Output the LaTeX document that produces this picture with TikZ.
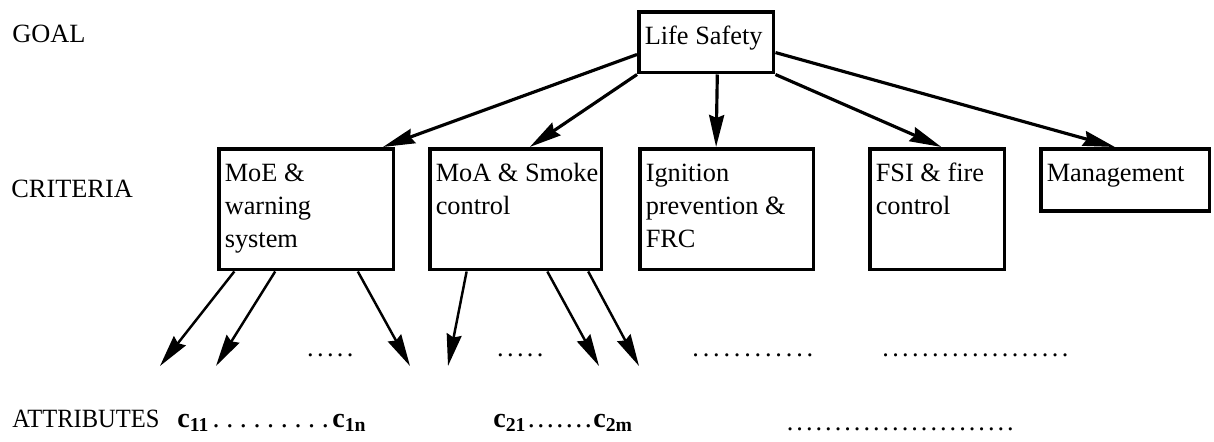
\documentclass[tikz,border=0pt]{standalone}
\usepackage{fontspec}
\setmainfont{Liberation Serif}
\usetikzlibrary{arrows.meta, calc}

\newcommand{\btxt}[3]{\parbox[t][#2][t]{#1}{\raggedright\leftskip=0.12cm\rule{0pt}{0.66cm}#3}}
\newcommand{\dts}[2]{\hbox to #1{\mdseries\xleaders\hbox to #2{\hss.\hss}\hfill}}

\begin{document}
\begin{tikzpicture}[x=0.02cm, y=-0.02cm,
    font=\fontsize{15}{18.8}\selectfont,
    box/.style={draw, line width=2pt, anchor=north west, inner sep=0pt},
    lbl/.style={anchor=base west, inner sep=0pt},
    cvar/.style={lbl, font=\fontsize{16}{18}\selectfont\bfseries},
    arr/.style={-{Stealth[length=0.64cm, width=0.3cm, inset=0.06cm]}, line width=1.8pt},
    sub/.style={-{Stealth[length=0.64cm, width=0.3cm, inset=0.06cm]}, line width=1.4pt}]
      \useasboundingbox (0,0) rectangle (1214,442);
      \node[lbl] (goal) at (12,43) {GOAL};
      \node[lbl] (crit) at (11,198) {CRITERIA};
      \node[lbl, xscale=.93] (attr) at (12,427) {ATTRIBUTES};
      \node[box] (ls) at (637,10) {\btxt{2.7cm}{1.22cm}{Life Safety}};
      \node[box] (moe) at (217,147) {\btxt{3.5cm}{2.42cm}{MoE \&\\warning\\system}};
      \node[box] (moa) at (428,147) {\btxt{3.44cm}{2.42cm}{MoA \&~Smoke\\control}};
      \node[box] (ign) at (638,147) {\btxt{3.48cm}{2.42cm}{Ignition\\prevention \&\\FRC}};
      \node[box] (fsi) at (868,147) {\btxt{2.7cm}{2.42cm}{FSI \& fire\\control}};
      \node[box] (mgt) at (1039,147) {\btxt{3.38cm}{1.24cm}{Management}};
      \draw[arr] ($(ls.north west)!.69!(ls.south west)$) -- ($(moe.north west)!.93!(moe.north east)$);
      \draw[arr] (ls.south west) -- ($(moa.north west)!.58!(moa.north east)$);
      \draw[arr] ($(ls.south west)!.58!(ls.south east)$) -- ($(ign.north west)!.44!(ign.north east)$);
      \draw[arr] (ls.south east) -- ($(fsi.north west)!.53!(fsi.north east)$);
      \draw[arr] ($(ls.north east)!.66!(ls.south east)$) -- ($(mgt.north west)!.44!(mgt.north east)$);
      \coordinate (a1) at (160,366);
      \coordinate (a2) at (216,366);
      \coordinate (a3) at (410,366);
      \coordinate (b1) at (448,366);
      \coordinate (b2) at (599,366);
      \coordinate (b3) at (639,366);
      \draw[sub] ($(moe.south west)!.097!(moe.south east)$) -- (a1);
      \draw[sub] ($(moe.south west)!.326!(moe.south east)$) -- (a2);
      \draw[sub] ($(moe.south west)!.789!(moe.south east)$) -- (a3);
      \draw[sub] ($(moa.south west)!.22!(moa.south east)$) -- (b1);
      \draw[sub] ($(moa.south west)!.68!(moa.south east)$) -- (b2);
      \draw[sub] ($(moa.south west)!.913!(moa.south east)$) -- (b3);
      \node[lbl] (d1) at (305,357) {\dts{1.0cm}{0.19cm}};
      \node[lbl] (d2) at (495,357) {\dts{1.0cm}{0.19cm}};
      \node[lbl] (d3) at (690,357) {\dts{2.5cm}{0.2cm}};
      \node[lbl] (d4) at (880,357) {\dts{3.8cm}{0.19cm}};
      \node[cvar] (c1) at (177,427) {c\textsubscript{11}\dts{2.46cm}{0.27cm}c\textsubscript{1n}};
      \node[cvar] (c2) at (493,427) {c\textsubscript{21}\dts{1.34cm}{0.186cm}c\textsubscript{2m}};
      \node[lbl] (c3) at (785,430) {\dts{4.6cm}{0.19cm}};
\end{tikzpicture}
\end{document}
